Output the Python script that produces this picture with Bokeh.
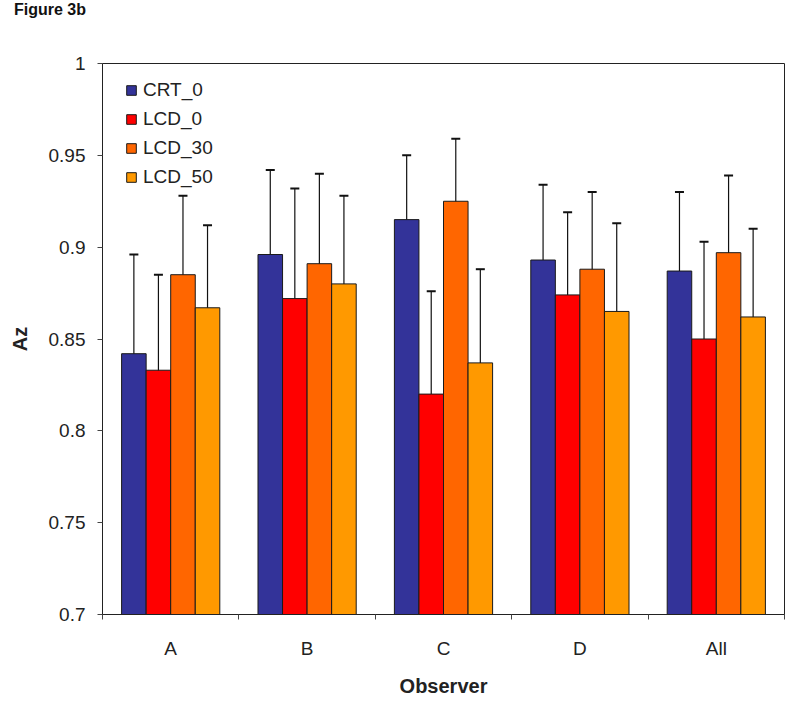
from bokeh.plotting import figure
from bokeh.models import (Range1d, FixedTicker, Whisker,
                          TeeHead, ColumnDataSource, Legend, Div)
from bokeh.layouts import column
from bokeh.transform import dodge
from bokeh.embed import file_html
from bokeh.resources import INLINE

# ---------------- data ----------------
observers = ["A", "B", "C", "D", "All"]
series = ["CRT_0", "LCD_0", "LCD_30", "LCD_50"]
colors = ["#333399", "#FF0000", "#FF6600", "#FF9900"]

crt_0 = [0.842, 0.896, 0.915, 0.893, 0.887]
crt_0_hi = [0.896, 0.942, 0.950, 0.934, 0.930]
crt_0_lo = [0.787, 0.849, 0.879, 0.851, 0.842]

lcd_0 = [0.833, 0.872, 0.820, 0.874, 0.850]
lcd_0_hi = [0.885, 0.932, 0.876, 0.919, 0.903]
lcd_0_lo = [0.780, 0.812, 0.764, 0.830, 0.796]

lcd_30 = [0.885, 0.891, 0.925, 0.888, 0.897]
lcd_30_hi = [0.928, 0.940, 0.959, 0.930, 0.939]
lcd_30_lo = [0.840, 0.842, 0.891, 0.846, 0.855]

lcd_50 = [0.867, 0.880, 0.837, 0.865, 0.862]
lcd_50_hi = [0.912, 0.928, 0.888, 0.913, 0.910]
lcd_50_lo = [0.820, 0.832, 0.785, 0.817, 0.813]

yticks = [0.7, 0.75, 0.8, 0.85, 0.9, 0.95, 1.0]
ytick_labels = ["0.7", "0.75", "0.8", "0.85", "0.9", "0.95", "1"]

values = [crt_0, lcd_0, lcd_30, lcd_50]
highs = [crt_0_hi, lcd_0_hi, lcd_30_hi, lcd_50_hi]
lows = [crt_0_lo, lcd_0_lo, lcd_30_lo, lcd_50_lo]
offsets = [-0.27, -0.09, 0.09, 0.27]
bar_w = 0.18

FONT = "Liberation Sans"

# category slots: observer i occupies [i, i+1] on the numeric x scale
centres = [i + 0.5 for i in range(len(observers))]
bounds = [float(i) for i in range(len(observers) + 1)]

p = figure(x_range=Range1d(0, len(observers)),
           y_range=Range1d(0.7, 1.0),
           width=792, height=680,
           output_backend="svg", toolbar_location=None,
           min_border_left=102, min_border_top=43,
           min_border_right=8, min_border_bottom=86)

p.xgrid.visible = False
p.ygrid.visible = False
p.outline_line_color = "#222222"
p.outline_line_width = 1
p.background_fill_color = "white"
p.border_fill_color = "white"

legend_items = []
for name, col, vals, hi, lo, off in zip(series, colors, values, highs, lows, offsets):
    src = ColumnDataSource(dict(pos=centres, v=vals, hi=hi, lo=lo))
    r = p.vbar(x=dodge("pos", off), top="v", bottom=0.7,
               width=bar_w, source=src, fill_color=col,
               line_color="#1a1a1a", line_width=1)
    legend_items.append((name, [r]))

for name, vals, hi, lo, off in zip(series, values, highs, lows, offsets):
    src = ColumnDataSource(dict(pos=centres, hi=hi, lo=lo))
    w = Whisker(base=dodge("pos", off), upper="hi", lower="lo",
                source=src, line_color="#111111", line_width=1.2,
                upper_head=TeeHead(size=9, line_color="#111111", line_width=2),
                lower_head=TeeHead(size=9, line_color="#111111", line_width=2))
    p.add_layout(w)

# x axis: labels at category centres, ticks at category boundaries
xax = p.xaxis[0]
xax.ticker = FixedTicker(ticks=centres, minor_ticks=bounds)
xax.major_label_overrides = {c: o for c, o in zip(centres, observers)}
xax.major_tick_out = 0
xax.major_tick_in = 0
xax.minor_tick_out = 5
xax.minor_tick_in = 0
xax.minor_tick_line_color = "#444444"
xax.axis_line_color = "#222222"
xax.major_label_standoff = 18
xax.major_label_text_font = FONT
xax.major_label_text_font_size = "19px"
xax.major_label_text_color = "#222222"
xax.axis_label = "Observer"
xax.axis_label_text_font = FONT
xax.axis_label_text_font_size = "20px"
xax.axis_label_text_font_style = "bold"
xax.axis_label_text_color = "#222222"
xax.axis_label_standoff = 13

yax = p.yaxis[0]
yax.ticker = FixedTicker(ticks=yticks, minor_ticks=[])
yax.major_label_overrides = {t: l for t, l in zip(yticks, ytick_labels)}
yax.major_tick_out = 5
yax.major_tick_in = 0
yax.minor_tick_out = 0
yax.minor_tick_in = 0
yax.major_tick_line_color = "#444444"
yax.axis_line_color = "#222222"
yax.major_label_standoff = 12
yax.major_label_text_font = FONT
yax.major_label_text_font_size = "19px"
yax.major_label_text_color = "#222222"
yax.axis_label = "Az"
yax.axis_label_text_font = FONT
yax.axis_label_text_font_size = "20px"
yax.axis_label_text_font_style = "bold"
yax.axis_label_text_color = "#222222"
yax.axis_label_standoff = 15

legend = Legend(items=legend_items, location=(23, 426),
                border_line_color=None, background_fill_alpha=0,
                padding=0, margin=0, spacing=7,
                glyph_width=12, glyph_height=12, label_height=20,
                label_standoff=6,
                label_text_font=FONT, label_text_font_size="19px",
                label_text_color="#222222")
p.add_layout(legend, "center")

heading = Div(text="Figure 3b", width=200, height=20, margin=(0, 0, 0, 14),
              styles={"font-family": FONT, "font-size": "16px",
                      "font-weight": "bold", "color": "#111111",
                      "line-height": "20px"})

layout = column(heading, p, spacing=0)

open("out.html", "w").write(file_html(layout, INLINE))
